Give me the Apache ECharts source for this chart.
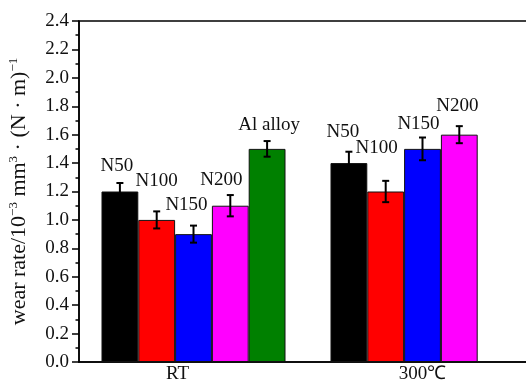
<!DOCTYPE html>
<html>
<head>
<meta charset="utf-8">
<script src="https://cdn.jsdelivr.net/npm/echarts@6/dist/echarts.min.js"></script>
<style>
html,body{margin:0;padding:0;background:#fff;}
#chart{width:526px;height:383px;}
</style>
</head>
<body>
<div id="chart"></div>
<script>
// ---- data ----
var categories = ['RT', '300℃'];
var seriesNames = ['N50', 'N100', 'N150', 'N200', 'Al alloy'];
var valN50 = [1.2, 1.4];
var valN100 = [1.0, 1.2];
var valN150 = [0.9, 1.5];
var valN200 = [1.1, 1.6];
var valAl = [1.5, null];
var errN50 = [0.06, 0.08];
var errN100 = [0.06, 0.075];
var errN150 = [0.06, 0.08];
var errN200 = [0.075, 0.06];
var errAl = [0.055, null];
var yTicks = [0, 2.4, 0.2];

// ---- styling / layout (not data) ----
var colors = ['#000000', '#ff0000', '#0000ff', '#ff00ff', '#008000'];
var labelOffsets = [
  [[-3, -16], [-6, -22]],
  [[0, -29], [-9, -34]],
  [[-7, -20], [-4, -15]],
  [[-9, -16], [-2, -19]],
  [[2, -14], [0, 0]]
];
var FONT = 'Liberation Serif';
var GAP = 0.1965;

var values = [valN50, valN100, valN150, valN200, valAl];
var errors = [errN50, errN100, errN150, errN200, errAl];

var series = [];
values.forEach(function (vals, si) {
  series.push({
    name: seriesNames[si],
    type: 'bar',
    barGap: '0%',
    barCategoryGap: (GAP * 100) + '%',
    itemStyle: { color: colors[si], borderColor: '#111', borderWidth: 1 },
    data: vals.map(function (v, ci) {
      if (v == null) return '-';
      return {
        value: v,
        label: {
          show: true,
          position: 'top',
          distance: 0,
          offset: labelOffsets[si][ci],
          formatter: seriesNames[si],
          fontFamily: FONT,
          fontSize: 19,
          color: '#111'
        }
      };
    }),
    z: 2
  });
});

var errData = [];
values.forEach(function (vals, si) {
  vals.forEach(function (v, ci) {
    if (v != null) errData.push([ci, v, errors[si][ci], si]);
  });
});

series.push({
  type: 'custom',
  name: 'err',
  z: 5,
  encode: { x: 0, y: 1 },
  data: errData,
  renderItem: function (params, api) {
    var ci = api.value(0), v = api.value(1), e = api.value(2), si = api.value(3);
    var catW = api.size([1, 0])[0];
    var bw = catW * (1 - GAP) / 5;
    var c = api.coord([ci, v]);
    var x = c[0] + (si - 2) * bw;
    var top = api.coord([ci, v + e])[1];
    var bot = api.coord([ci, v - e])[1];
    var hw = 3.5;
    var st = { stroke: '#000', lineWidth: 2 };
    return {
      type: 'group',
      children: [
        { type: 'line', shape: { x1: x, y1: top, x2: x, y2: bot }, style: st },
        { type: 'line', shape: { x1: x - hw, y1: top, x2: x + hw, y2: top }, style: st },
        { type: 'line', shape: { x1: x - hw, y1: bot, x2: x + hw, y2: bot }, style: st }
      ]
    };
  }
});

var chart = echarts.init(document.getElementById('chart'));
chart.setOption({
  animation: false,
  backgroundColor: '#fff',
  textStyle: { fontFamily: FONT },
  grid: { left: 79, top: 21, width: 458, height: 341, containLabel: false, outerBoundsMode: 'none', show: true, borderColor: '#000', borderWidth: 1.5, backgroundColor: 'transparent' },
  xAxis: {
    type: 'category',
    data: categories,
    axisLine: { lineStyle: { color: '#000', width: 1.5 } },
    axisTick: { show: false },
    axisLabel: {
      margin: 3,
      fontFamily: FONT,
      fontSize: 19,
      color: '#111',
      formatter: function (v, i) { return i === 0 ? '{a|' + v + '}' : '{b|' + v + '}'; },
      rich: {
        a: { fontFamily: FONT, fontSize: 19, color: '#111', padding: [0, 32, 0, 0] },
        b: { fontFamily: FONT, fontSize: 19, color: '#111' }
      }
    }
  },
  yAxis: {
    type: 'value',
    min: yTicks[0],
    max: yTicks[1],
    interval: yTicks[2],
    splitLine: { show: false },
    axisLine: { show: true, lineStyle: { color: '#000', width: 1.5 } },
    axisTick: { show: true, inside: false, length: 7, lineStyle: { color: '#000', width: 1.5 } },
    minorTick: { show: true, splitNumber: 2, length: 3.5, lineStyle: { color: '#000', width: 1.5 } },
    axisLabel: {
      margin: 10,
      fontFamily: FONT,
      fontSize: 19,
      color: '#111',
      formatter: function (v) { return v.toFixed(1); }
    },
    name: '{n|wear rate/10}{s|−3}{n| mm}{s|3}{n| · (N · m)}{s|−1}',
    nameLocation: 'middle',
    nameRotate: 90,
    nameGap: 48,
    nameTextStyle: {
      fontFamily: FONT,
      color: '#111',
      rich: {
        n: { fontFamily: FONT, fontSize: 22, color: '#111', lineHeight: 24 },
        s: { fontFamily: FONT, fontSize: 13, color: '#111', lineHeight: 24, verticalAlign: 'top' }
      }
    }
  },
  series: series
});
</script>
</body>
</html>
